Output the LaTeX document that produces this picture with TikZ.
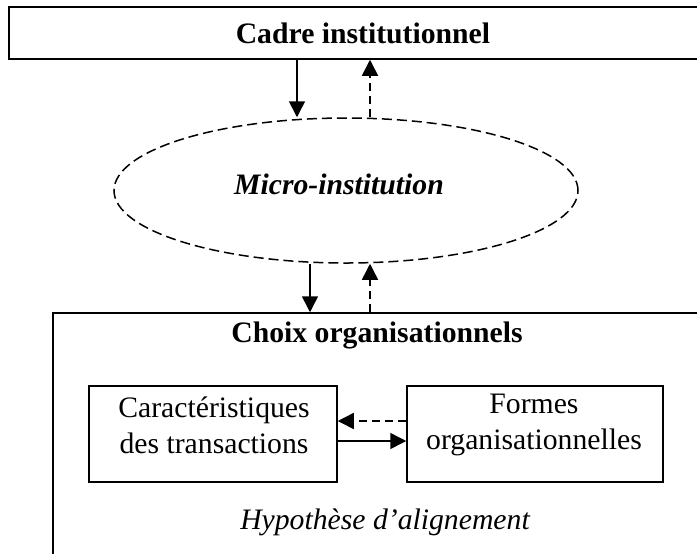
\documentclass[tikz,border=0pt]{standalone}
\usepackage{fontspec}
\setmainfont{Liberation Serif}
\usetikzlibrary{arrows.meta,shapes.geometric}
\tikzset{
  boite/.style={draw, line width=.75pt, inner sep=0pt},
  texte/.style={font=\fontsize{14.85}{18}\selectfont, inner sep=0pt, align=center},
  tirets/.style={dash pattern=on 4pt off 2.5pt},
}
\begin{document}
\begin{tikzpicture}[x=.5pt,y=-.5pt,>={Triangle[length=8pt,width=8pt]},line width=.75pt]
\clip (0,0) rectangle (697,553);

\node[boite,minimum width=354pt,minimum height=26pt,texte,font=\fontsize{14.85}{18}\selectfont\bfseries] (cadre) at (363,33) {Cadre institutionnel};

\node[boite,ellipse,dash pattern=on 5pt off 2.5pt,minimum width=232pt,minimum height=72.5pt] (micro) at (346,190.5) {};
\node[texte,font=\fontsize{14.85}{18}\selectfont\bfseries\itshape] (microtxt) at (339,184) {Micro-institution};

\node[boite,minimum width=324pt,minimum height=143.5pt] (choix) at (377,456.5) {};
\node[texte,font=\fontsize{14.85}{18}\selectfont\bfseries] (choixtxt) at (377,335) {Choix organisationnels};

\node[boite,minimum width=124pt,minimum height=48pt] (carac) at (213,434) {};
\node[texte] (caractxt) at (214,425) {Caractéristiques\\des transactions};
\node[boite,minimum width=128pt,minimum height=48pt] (formes) at (535,434) {};
\node[texte] (formestxt) at (534,425) {Formes\\organisationnelles};

\node[texte,font=\fontsize{14.85}{18}\selectfont\itshape] (hypo) at (385,522) {Hypothèse d’alignement};

\draw[->] ([xshift=-33pt]cadre.south) -- ([xshift=-33pt]cadre.south |- micro.north);
\draw[->,tirets] ([xshift=12pt]micro.north) -- ([xshift=12pt]micro.north |- cadre.south);
\draw[->] ([xshift=-18pt]micro.south) -- ([xshift=-18pt]micro.south |- choix.north);
\draw[->,tirets] ([xshift=12pt]micro.south |- choix.north) -- ([xshift=12pt]micro.south);

\draw[->,tirets] ([yshift=6.5pt]formes.west) -- ([yshift=6.5pt]carac.east);
\draw[->] ([yshift=-3.5pt]carac.east) -- ([yshift=-3.5pt]formes.west);
\end{tikzpicture}
\end{document}
